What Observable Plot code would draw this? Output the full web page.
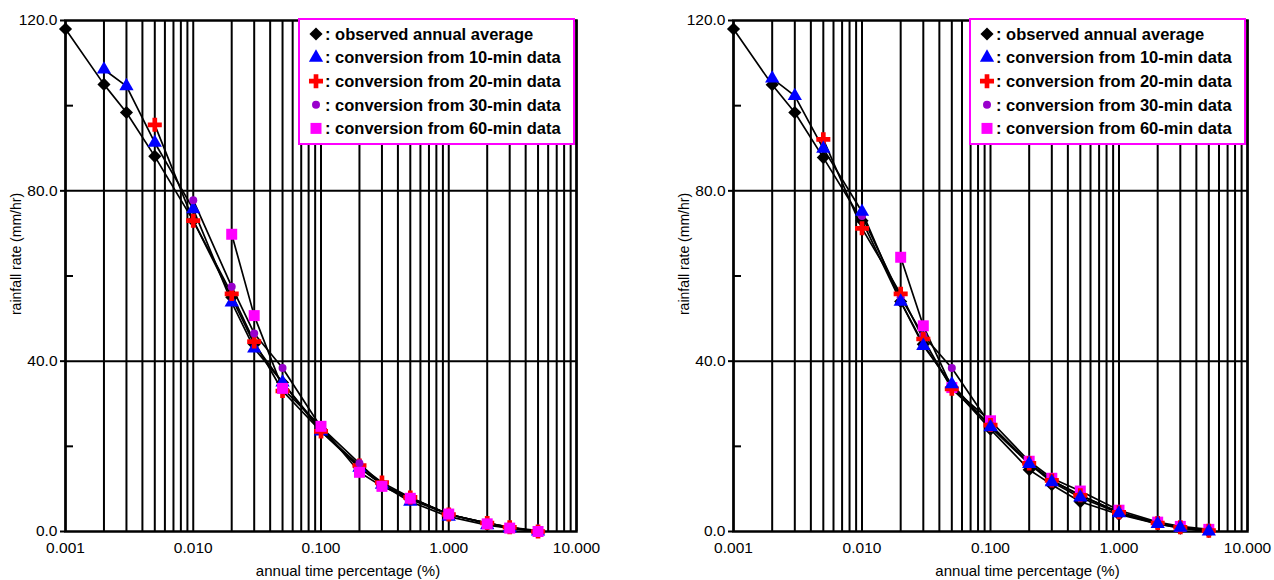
<!DOCTYPE html>
<html>
<head>
<meta charset="utf-8">
<script src="https://cdn.jsdelivr.net/npm/d3@7"></script>
<script src="https://cdn.jsdelivr.net/npm/@observablehq/plot@0.6"></script>
<style>
  html, body { margin: 0; padding: 0; background: white; }
  #root { position: relative; width: 1274px; height: 580px; overflow: hidden; font-family: "Liberation Sans", Arial, sans-serif; }
  .panel { position: absolute; top: 0; }
  .legend { position: absolute; box-sizing: border-box; border: 2px solid #ff00ff; background: white; }
</style>
</head>
<body>
<div id="root"></div>
<script>
// ---- data ----
const timePct = [0.001, 0.002, 0.003, 0.005, 0.01, 0.02, 0.03, 0.05, 0.1, 0.2, 0.3, 0.5, 1, 2, 3, 5];
const xTickValues = [0.001, 0.01, 0.1, 1, 10];
const yTickValues = [0, 40, 80, 120];
const yMinorTicks = [20, 60, 100];
const seriesNames = [
  "observed annual average",
  "conversion from 10-min data",
  "conversion from 20-min data",
  "conversion from 30-min data",
  "conversion from 60-min data"
];
const xLabel = "annual time percentage (%)";
const yLabel = "rainfall rate (mm/hr)";

// left panel
const observedLeft = [118, 105, 98.4, 88.1, 73, 55, 44, 35, 24, 15, 11, 7.5, 4, 2, 1, 0.2];
const min10Left = [null, 108.5, 104.6, 91.3, 75.7, 53.8, 43, 35, 23.5, 15, 11, 7, 3.5, 1.5, 0.8, 0];
const min20Left = [null, null, null, 95.5, 73, 55.8, 44.6, 33, 23.5, 15.5, 11.5, 8, 4, 2, 1, 0];
const min30Left = [null, null, null, null, 77.8, 57.5, 46.5, 38.4, 24.5, 16, 11, 8, 4, 2, 1, 0];
const min60Left = [null, null, null, null, null, 69.8, 50.7, 33.6, 24.7, 13.9, 10.6, 7.8, 4.1, 1.8, 0.8, 0];

// right panel
const observedRight = [118, 104.9, 98.4, 87.8, 73, 54, 44, 34, 24, 14.5, 11, 7, 4, 1.8, 0.8, 0];
const min10Right = [null, 106.4, 102.3, 89.9, 75.1, 54, 43.6, 34.6, 24.5, 15.9, 11.6, 8, 4.3, 1.8, 0.9, 0];
const min20Right = [null, null, null, 92.1, 71.2, 55.8, 45.2, 33.5, 25, 16, 12, 8.5, 4.5, 2, 1, 0.2];
const min30Right = [null, null, null, null, 74.1, 55, 46, 38.4, 25, 16, 12, 8.5, 4.5, 2, 1, 0.3];
const min60Right = [null, null, null, null, null, 64.4, 48.3, 33.8, 26, 16.5, 12.5, 9.5, 5, 2.2, 1.2, 0.5];

// ---- styles ----
const FONT = '"Liberation Sans", Arial, sans-serif';
const markerStyle = [
  {symbol: "diamond2", fill: "black", r: 5.9},
  {symbol: "triangle", fill: "#0000ff", r: 5.3},
  {symbol: "cross", fill: "#ff0000", r: 5.9},
  {symbol: "circle", fill: "#9900cc", r: 4.0},
  {symbol: "square", fill: "#ff00ff", r: 6.2}
];

function rows(arr) {
  return timePct.map((x, i) => ({x, y: arr[i]})).filter(d => d.y != null);
}

const gridX = d3.scaleLog().domain([0.001, 10]).ticks();

function makePanel(seriesArrays, drawOrder, cfg) {
  const data = seriesArrays.map(rows);
  const marks = [
    Plot.ruleX(gridX, {stroke: "black", strokeWidth: 2}),
    Plot.ruleY([40, 80], {stroke: "black", strokeWidth: 2}),
    Plot.frame({stroke: "black", strokeWidth: 2.5}),
    Plot.axisX(xTickValues, {tickFormat: d3.format(".3f"), tickSize: 0, tickPadding: 10, label: null, fontSize: 15.5}),
    Plot.axisY(yTickValues, {tickFormat: d3.format(".1f"), tickSize: 5, tickPadding: 3, label: null, fontSize: 15.5, strokeWidth: 2}),
    Plot.axisY(yMinorTicks, {tickFormat: () => "", tickSize: 8, dx: 8, label: null, strokeWidth: 2}),
    Plot.text([xLabel], {text: d => d, frameAnchor: "bottom", textAnchor: "middle", lineAnchor: "middle", dy: 40, dx: cfg.xLabelDx, fontSize: 15}),
    Plot.text([yLabel], {text: d => d, frameAnchor: "left", textAnchor: "middle", lineAnchor: "middle", rotate: -90, dx: -49, dy: -22, fontSize: 14})
  ];
  for (const i of drawOrder) {
    marks.push(Plot.line(data[i], {x: "x", y: "y", stroke: "black", strokeWidth: 1.7}));
  }
  for (const i of drawOrder) {
    const s = markerStyle[i];
    marks.push(Plot.dot(data[i], {x: "x", y: "y", symbol: () => s.symbol, fill: s.fill, stroke: "none", r: s.r}));
  }
  return Plot.plot({
    width: 637,
    height: 580,
    marginLeft: cfg.marginLeft,
    marginRight: cfg.marginRight,
    marginTop: 20,
    marginBottom: 49,
    style: {fontFamily: FONT, fontSize: "15px", color: "black", background: "white", overflow: "visible"},
    x: {type: "log", domain: [0.001, 10]},
    y: {domain: [0, 120]},
    symbol: {type: "identity"},
    marks
  });
}

function makeLegend(left) {
  const div = document.createElement("div");
  div.className = "legend";
  div.style.left = left + "px";
  div.style.top = "18px";
  div.style.width = "277px";
  div.style.height = "127px";
  const svg = d3.create("svg").attr("width", 273).attr("height", 123)
    .style("display", "block").style("font-family", FONT);
  seriesNames.forEach((name, i) => {
    const s = markerStyle[i];
    const cy = 14 + i * 23.6;
    const symType = {diamond2: d3.symbolDiamond2, triangle: d3.symbolTriangle, cross: d3.symbolCross, circle: d3.symbolCircle, square: d3.symbolSquare}[s.symbol];
    svg.append("path")
      .attr("d", d3.symbol(symType, Math.PI * s.r * s.r)())
      .attr("transform", `translate(16,${cy})`)
      .attr("fill", s.fill);
    svg.append("text")
      .attr("x", 25).attr("y", cy).attr("dy", "0.35em")
      .attr("font-size", 16.5).attr("font-weight", "bold")
      .text(": " + name);
  });
  div.appendChild(svg.node());
  return div;
}

const root = document.getElementById("root");

const leftPanel = document.createElement("div");
leftPanel.className = "panel";
leftPanel.style.left = "0px";
leftPanel.appendChild(makePanel(
  [observedLeft, min10Left, min20Left, min30Left, min60Left],
  [0, 1, 2, 3, 4],
  {marginLeft: 65, marginRight: 61, xLabelDx: 27}
));
root.appendChild(leftPanel);

const rightPanel = document.createElement("div");
rightPanel.className = "panel";
rightPanel.style.left = "637px";
rightPanel.appendChild(makePanel(
  [observedRight, min10Right, min20Right, min30Right, min60Right],
  [0, 4, 3, 2, 1],
  {marginLeft: 96, marginRight: 27, xLabelDx: 37}
));
root.appendChild(rightPanel);

root.appendChild(makeLegend(298));
root.appendChild(makeLegend(969));
</script>
</body>
</html>
